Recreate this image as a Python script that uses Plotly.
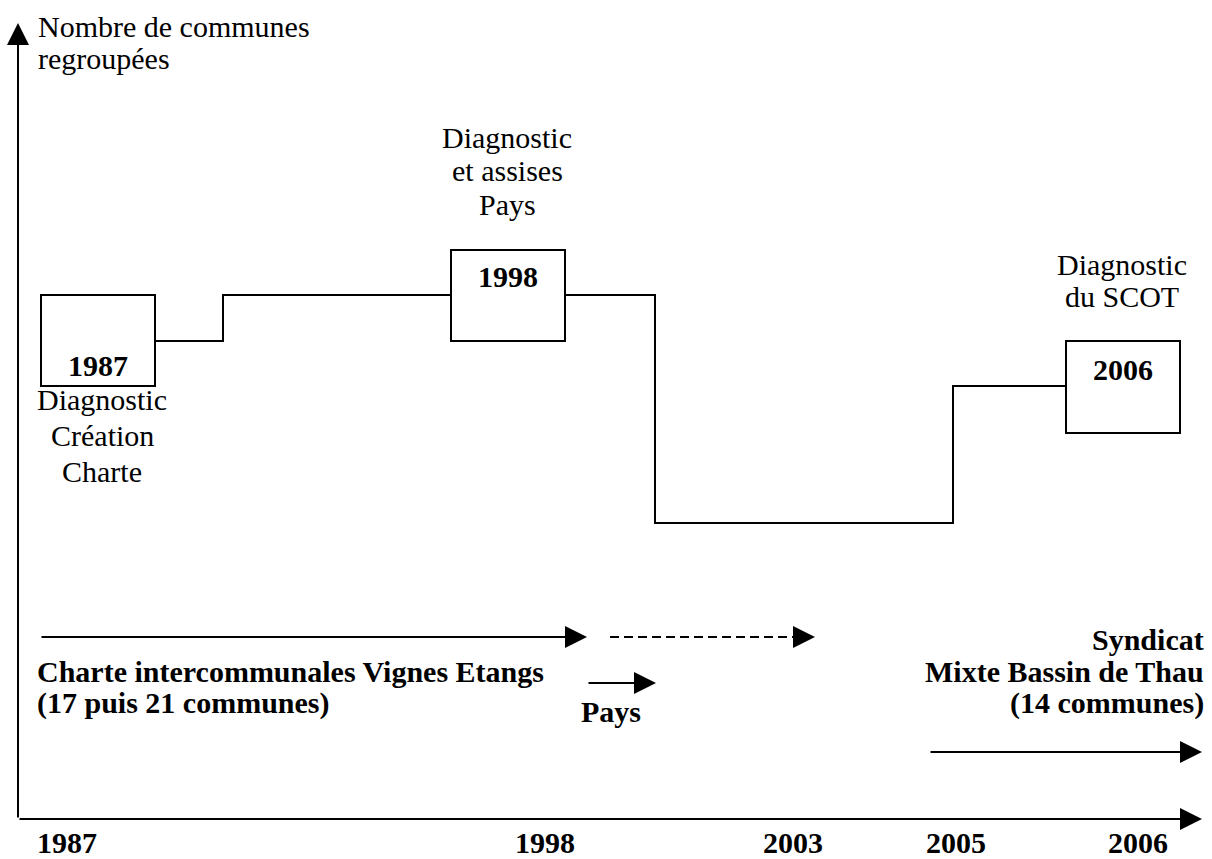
import plotly.graph_objects as go

# ---------------- data (schematic coordinates) ----------------
axis_title = ["Nombre de communes", "regroupées"]
axis_title_y = [26, 58]

tick_labels = ["1987", "1998", "2003", "2005", "2006"]
tick_x = [67, 545, 793, 956, 1138]

# step line: number of communes regrouped over time (schematic levels)
step_x = [155, 223, 223, 655, 655, 953, 953, 1066]
step_y = [341, 341, 295, 295, 523, 523, 386, 386]

# boxes marking the key years
box_years = ["1987", "1998", "2006"]
box_x0 = [41, 451, 1066]
box_x1 = [155, 565, 1180]
box_y0 = [295, 250, 341]
box_y1 = [386, 341, 433]
box_label_y = [365, 276, 369]

# notes attached to each box
notes = [["Diagnostic", "Création", "Charte"],
         ["Diagnostic", "et assises", "Pays"],
         ["Diagnostic", "du SCOT"]]
note_x = [102, 507, 1122]
note_y = [[399, 435, 471], [137, 170, 204], [264, 296]]

# period arrows
period_x0 = [40, 587, 929]
period_x1 = [587, 656, 1202]
period_y = [637, 683, 752]
dashed_x = [610, 815]
dashed_y = [637, 637]

charte_lines = ["Charte intercommunales Vignes Etangs", "(17 puis 21 communes)"]
charte_y = [671, 703]
pays_label = "Pays"
pays_y = 711
smbt_lines = ["Syndicat", "Mixte Bassin de Thau", "(14 communes)"]
smbt_y = [639, 671, 703]

# axes of the schematic
origin = (18, 819)
x_axis_end = 1202
y_axis_end = 23

W, H = 1212, 859
FONT = "Liberation Serif, Times New Roman, serif"
FS = 30
BLACK = "#000000"
LW = 2

fig = go.Figure()

# step line
fig.add_trace(go.Scatter(x=step_x, y=step_y, mode="lines",
                         line=dict(color=BLACK, width=LW), hoverinfo="skip",
                         showlegend=False))

# dashed period line (arrow head added as annotation)
fig.add_trace(go.Scatter(x=[dashed_x[0], dashed_x[1] - 12], y=dashed_y, mode="lines",
                         line=dict(color=BLACK, width=LW, dash="9px,5px"),
                         hoverinfo="skip", showlegend=False))

shapes = []
for x0, x1, y0, y1 in zip(box_x0, box_x1, box_y0, box_y1):
    shapes.append(dict(type="rect", xref="x", yref="y", x0=x0, x1=x1, y0=y0, y1=y1,
                       line=dict(color=BLACK, width=LW), fillcolor="white", layer="above"))

annotations = []


def arrow(x_tip, y_tip, x_tail, y_tail):
    annotations.append(dict(x=x_tip, y=y_tip, ax=x_tail, ay=y_tail, xref="x", yref="y",
                            axref="x", ayref="y", text="", showarrow=True,
                            arrowhead=2, arrowsize=2.2, arrowwidth=LW,
                            arrowcolor=BLACK, standoff=0, startstandoff=0,
                            font=dict(size=1)))


def label(text, x, y, xanchor="center", bold=False):
    t = f"<b>{text}</b>" if bold else text
    annotations.append(dict(x=x, y=y, xref="x", yref="y", text=t, showarrow=False,
                            xanchor=xanchor, yanchor="middle", borderpad=0,
                            font=dict(family=FONT, size=FS, color=BLACK)))


# axes
arrow(origin[0], y_axis_end, origin[0], origin[1])
arrow(x_axis_end, origin[1], origin[0], origin[1])

# period arrows
for x0, x1, y in zip(period_x0, period_x1, period_y):
    arrow(x1, y, x0, y)
arrow(dashed_x[1], dashed_y[1], dashed_x[1] - 22, dashed_y[1])

# texts
for t, y in zip(axis_title, axis_title_y):
    label(t, 37, y, xanchor="left")
for t, x in zip(tick_labels, tick_x):
    label(t, x, 842, bold=True)
for yr, x0, x1, y in zip(box_years, box_x0, box_x1, box_label_y):
    label(yr, (x0 + x1) / 2, y, bold=True)
for lines, x, ys in zip(notes, note_x, note_y):
    for t, y in zip(lines, ys):
        label(t, x, y)
for t, y in zip(charte_lines, charte_y):
    label(t, 36, y, xanchor="left", bold=True)
label(pays_label, 611, pays_y, bold=True)
for t, y in zip(smbt_lines, smbt_y):
    label(t, 1205, y, xanchor="right", bold=True)

fig.update_layout(
    width=W, height=H,
    margin=dict(l=0, r=0, t=0, b=0),
    paper_bgcolor="white", plot_bgcolor="white",
    xaxis=dict(range=[0, W], visible=False, fixedrange=True),
    yaxis=dict(range=[H, 0], visible=False, fixedrange=True),
    shapes=shapes, annotations=annotations,
    showlegend=False,
)

fig.write_html("out.html", config={"displayModeBar": False},
               post_script="document.body.style.margin='0px';"
                           "document.documentElement.style.overflow='hidden';")
